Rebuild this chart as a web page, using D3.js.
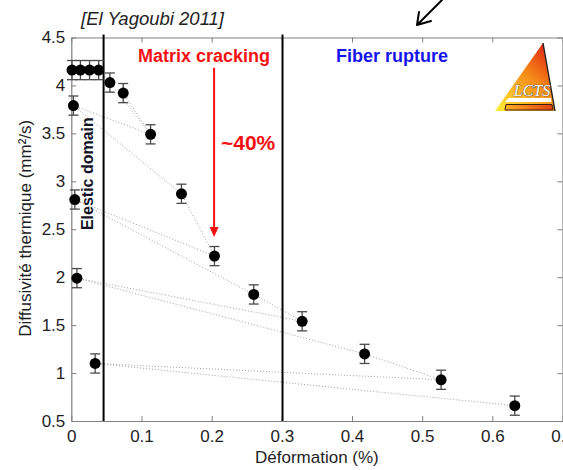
<!DOCTYPE html>
<html><head><meta charset="utf-8">
<script src="https://cdn.jsdelivr.net/npm/d3@7"></script>
<style>html,body{margin:0;padding:0;background:#fff;overflow:hidden}</style>
</head><body>
<svg id="c" width="563" height="470"></svg>
<script>
// ---- data ----
const strain      = [0.001, 0.013, 0.026, 0.039, 0.055, 0.074, 0.003, 0.113, 0.157, 0.204, 0.005, 0.260, 0.008, 0.329, 0.034, 0.418, 0.527, 0.632];
const diffusivity = [4.16, 4.16, 4.16, 4.16, 4.03, 3.92, 3.79, 3.49, 2.87, 2.22, 2.81, 1.82, 1.99, 1.54, 1.10, 1.20, 0.93, 0.66];
const errorBar    = [0.1, 0.1, 0.1, 0.1, 0.1, 0.1, 0.1, 0.1, 0.1, 0.1, 0.1, 0.1, 0.1, 0.1, 0.1, 0.1, 0.1, 0.1];
const linkFrom    = [3, 4, 5, 6, 6, 8, 10, 10, 11, 12, 12, 14, 14, 15];
const linkTo      = [4, 7, 7, 7, 8, 9, 9, 11, 13, 13, 15, 16, 17, 16];
const xTicks = [0, 0.1, 0.2, 0.3, 0.4, 0.5, 0.6, 0.7];
const yTicks = [0.5, 1, 1.5, 2, 2.5, 3, 3.5, 4, 4.5];
const regionBounds = [0.046, 0.301];
const xLabel = "Déformation (%)";
const yLabel = "Diffusivité thermique (mm²/s)";
const reference = "[El Yagoubi 2011]";
const arrowFromTo = [4.185, 2.42];   // red arrow (value scale) at strain 0.2035
const arrowStrain = 0.2035;

// ---- chart ----
const svg = d3.select("#c");
const FONT = "'Liberation Sans', Arial, sans-serif";
const x = d3.scaleLinear().domain([0, 0.7]).range([71.3, 562.5]);
const y = d3.scaleLinear().domain([0.5, 4.5]).range([421, 37.5]);
const AX = "#808080", TXT = "#1e1e1e";

function styleAxis(g){
  g.select(".domain").attr("stroke", AX).attr("stroke-width", 1.2);
  g.selectAll(".tick line").attr("stroke", AX).attr("stroke-width", 1);
  g.selectAll(".tick text").attr("fill", TXT).style("font-family", FONT).style("font-size", "17px");
}
svg.append("g").attr("transform", `translate(0,${y(0.5)})`)
  .call(d3.axisBottom(x).tickValues(xTicks).tickSizeInner(-5).tickSizeOuter(0).tickPadding(9).tickFormat(d3.format("~g")))
  .call(styleAxis);
svg.append("g").attr("transform", `translate(0,${y(4.5)})`)
  .call(d3.axisTop(x).tickValues(xTicks).tickSizeInner(-5).tickSizeOuter(0).tickFormat(""))
  .call(styleAxis);
svg.append("g").attr("transform", `translate(${x(0)},0)`)
  .call(d3.axisLeft(y).tickValues(yTicks).tickSizeInner(-5).tickSizeOuter(0).tickPadding(6).tickFormat(d3.format("~g")))
  .call(styleAxis);
svg.append("g").attr("transform", `translate(${x(0.7)},0)`)
  .call(d3.axisRight(y).tickValues(yTicks).tickSizeInner(-5).tickSizeOuter(0).tickFormat(""))
  .call(styleAxis);

// axis titles
svg.append("text").attr("x", (x(0)+x(0.7))/2).attr("y", 463).attr("text-anchor", "middle")
  .style("font-family", FONT).style("font-size", "17px").attr("fill", TXT).text(xLabel);
svg.append("text").attr("transform", `translate(31,${(y(0.5)+y(4.5))/2 - 1}) rotate(-90)`).attr("text-anchor", "middle")
  .style("font-family", FONT).style("font-size", "17px").attr("fill", TXT).text(yLabel);

// dotted link lines
const idx = d3.range(strain.length);
svg.append("g").selectAll("line").data(linkFrom.map((f,i)=>[f, linkTo[i]])).join("line")
  .attr("x1", d=>x(strain[d[0]])).attr("y1", d=>y(diffusivity[d[0]]))
  .attr("x2", d=>x(strain[d[1]])).attr("y2", d=>y(diffusivity[d[1]]))
  .attr("stroke", "#a0a0a0").attr("stroke-width", 1).attr("stroke-dasharray", "1,2");

// vertical region lines
svg.append("g").selectAll("line").data(regionBounds).join("line")
  .attr("x1", d=>x(d)).attr("x2", d=>x(d)).attr("y1", y(4.5)-3).attr("y2", y(0.5))
  .attr("stroke", "#000").attr("stroke-width", 2);

// error bars
const eb = svg.append("g").attr("stroke", "#4a4a4a").attr("stroke-width", 1.3);
idx.forEach(i=>{
  const cx = x(strain[i]), t = y(diffusivity[i]+errorBar[i]), b = y(diffusivity[i]-errorBar[i]);
  eb.append("line").attr("x1", cx).attr("x2", cx).attr("y1", t).attr("y2", b);
  eb.append("line").attr("x1", cx-5).attr("x2", cx+5).attr("y1", t).attr("y2", t);
  eb.append("line").attr("x1", cx-5).attr("x2", cx+5).attr("y1", b).attr("y2", b);
});
// dots
svg.append("g").selectAll("circle").data(idx).join("circle")
  .attr("cx", i=>x(strain[i])).attr("cy", i=>y(diffusivity[i])).attr("r", 5.5).attr("fill", "#000");

// annotations
svg.append("text").attr("transform", `translate(92.5,${y(3.08)}) rotate(-90)`).attr("text-anchor", "middle")
  .style("font-family", FONT).style("font-size", "16px").style("font-weight", "bold").attr("fill", "#141428").text("Elestic domain");
svg.append("text").attr("x", 204).attr("y", 62).attr("text-anchor", "middle")
  .style("font-family", FONT).style("font-size", "18px").style("font-weight", "bold").attr("fill", "#f51010").text("Matrix cracking");
svg.append("text").attr("x", 392).attr("y", 62).attr("text-anchor", "middle")
  .style("font-family", FONT).style("font-size", "18px").style("font-weight", "bold").attr("fill", "#1515f0").text("Fiber rupture");
svg.append("text").attr("x", 221).attr("y", 150)
  .style("font-family", FONT).style("font-size", "21px").style("font-weight", "bold").attr("fill", "#f51010").text("~40%");
svg.append("text").attr("x", 81).attr("y", 25)
  .style("font-family", FONT).style("font-size", "18.5px").style("font-style", "italic").attr("fill", "#222").text(reference);

// red arrow
const ax = x(arrowStrain), ay1 = y(arrowFromTo[0]), ay2 = y(arrowFromTo[1]);
svg.append("line").attr("x1", ax).attr("x2", ax).attr("y1", ay1).attr("y2", ay2-8).attr("stroke", "#f51010").attr("stroke-width", 2);
svg.append("path").attr("d", `M${ax-4.5},${ay2-10} L${ax+4.5},${ay2-10} L${ax},${ay2} Z`).attr("fill", "#f51010");

// black hand-drawn arrow at top
svg.append("path").attr("d", "M442,0 L417,25 M419,12 L417,25 L431,21")
  .attr("fill", "none").attr("stroke", "#000").attr("stroke-width", 2).attr("stroke-linecap", "round").attr("stroke-linejoin", "round");

// LCTS logo
const defs = svg.append("defs");
const gr = defs.append("linearGradient").attr("id", "lg").attr("x1", "0.9").attr("y1", "0").attr("x2", "0.1").attr("y2", "1");
gr.append("stop").attr("offset", "0").attr("stop-color", "#e01a10");
gr.append("stop").attr("offset", "0.45").attr("stop-color", "#f58a18");
gr.append("stop").attr("offset", "1").attr("stop-color", "#ffe838");
const gr2 = defs.append("linearGradient").attr("id", "lg2").attr("x1", "0").attr("y1", "0").attr("x2", "1").attr("y2", "0");
gr2.append("stop").attr("offset", "0").attr("stop-color", "#ffb020");
gr2.append("stop").attr("offset", "1").attr("stop-color", "#e04010");
const logo = svg.append("g");
logo.append("path").attr("d", "M543,43 L555,111 L495,111 Z").attr("fill", "url(#lg)");
logo.append("path").attr("d", "M543,43 L555,111").attr("stroke", "#222").attr("stroke-width", 1.4);
logo.append("path").attr("d", "M509,98 L551,98 L551.5,102 L505,102 Z").attr("fill", "#fff");
logo.append("path").attr("d", "M506,104.5 L552,104.5 L553,110 L505,110 Z").attr("fill", "url(#lg2)").attr("stroke", "#3a2010").attr("stroke-width", 1);
logo.append("text").attr("x", 532).attr("y", 96).attr("text-anchor", "middle")
  .style("font-family", "'Liberation Serif', 'Times New Roman', serif").style("font-size", "16px").style("font-style", "italic")
  .attr("fill", "#fff").attr("stroke", "#444").attr("stroke-width", 0.7).attr("paint-order", "stroke").text("LCTS");
</script>
</body></html>
